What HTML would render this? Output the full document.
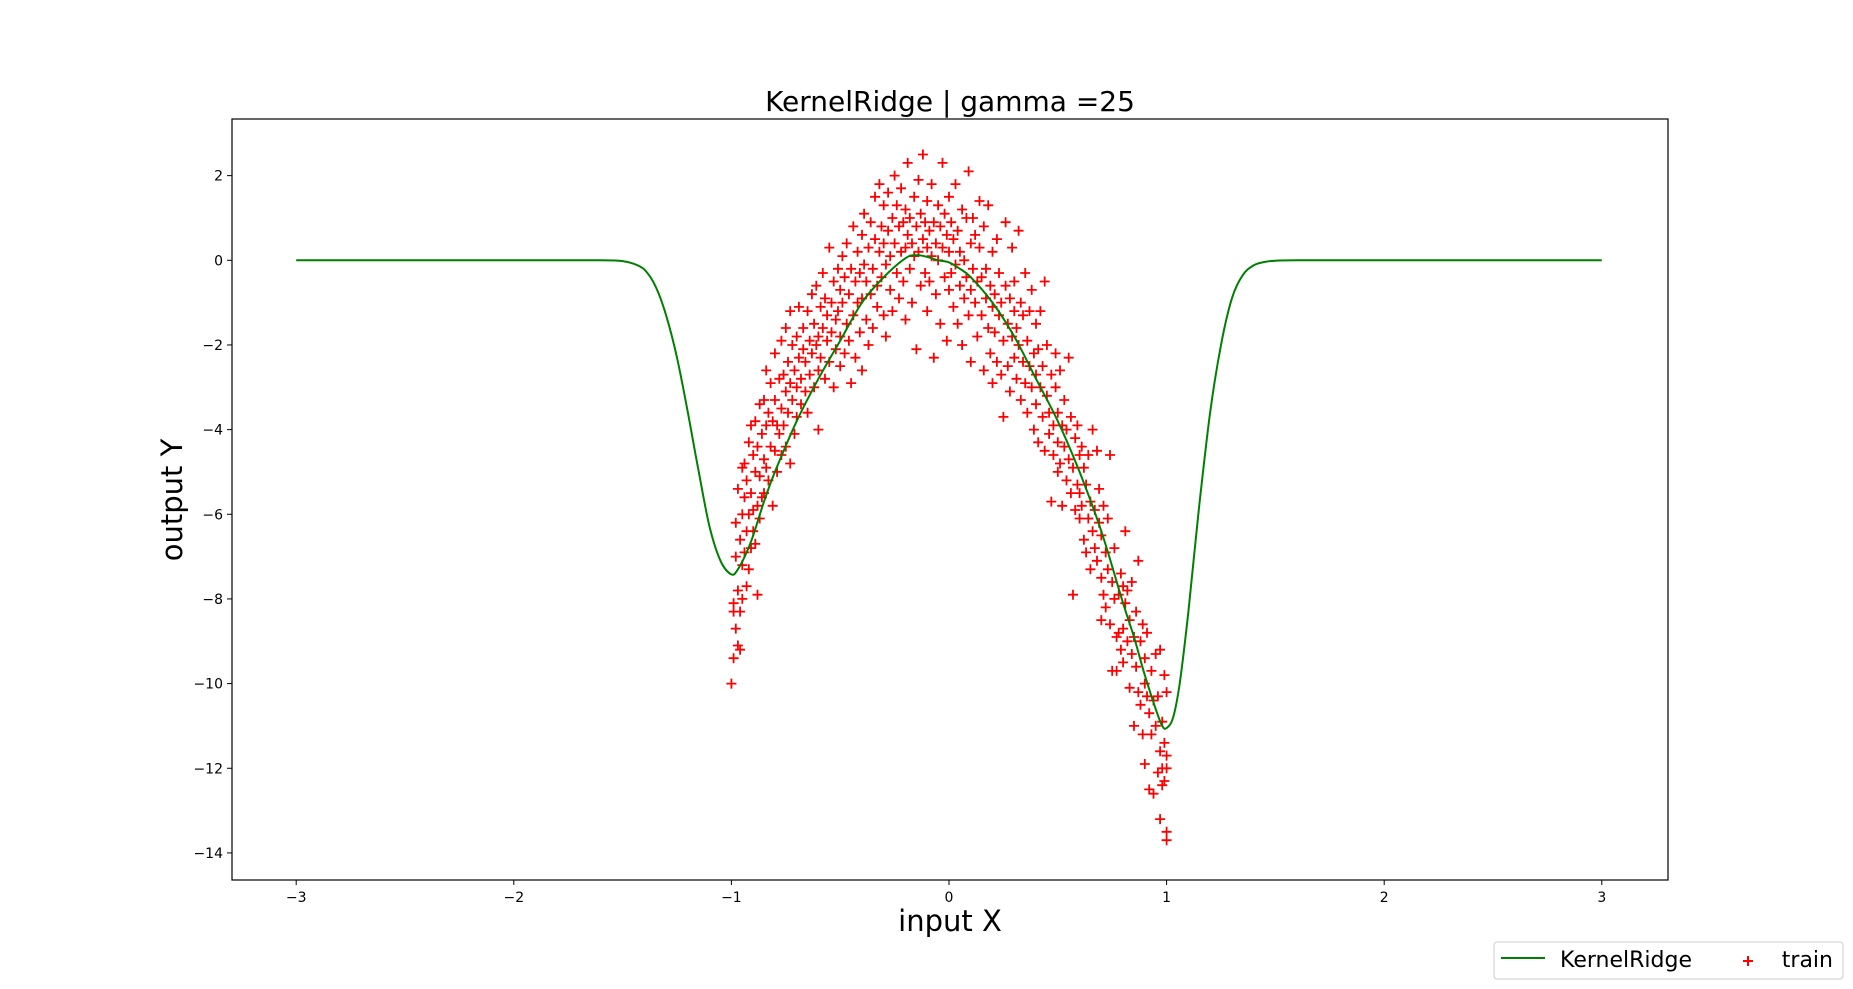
<!DOCTYPE html>
<html><head><meta charset="utf-8"><style>
html,body{margin:0;padding:0;background:#fff;}
svg{display:block;font-family:"DejaVu Sans","Liberation Sans",sans-serif;}
</style></head><body>
<svg id="chart" width="1853" height="989" viewBox="0 0 1853 989">
<rect x="0" y="0" width="1853" height="989" fill="#fff"/>
<text x="950" y="111" font-size="28" text-anchor="middle" fill="#000">KernelRidge | gamma =25</text>
<g id="plot"></g>
<rect x="232" y="119" width="1436" height="761" fill="none" stroke="#000" stroke-width="1.2"/>
<g id="xticks"></g>
<g id="yticks"></g>
<text x="950" y="931" font-size="29" text-anchor="middle">input X</text>
<text transform="translate(182,500) rotate(-90)" font-size="29" text-anchor="middle">output Y</text>
<g>
<rect x="1494" y="942" width="349" height="37" rx="3" fill="#fff" stroke="#ccc" stroke-width="1"/>
<line x1="1501" y1="958" x2="1545" y2="958" stroke="#008000" stroke-width="2"/>
<text x="1560" y="967" font-size="22">KernelRidge</text>
<path d="M1743 961h10M1748 956v10" stroke="#f00" stroke-width="2"/>
<text x="1833" y="967" font-size="22" text-anchor="end">train</text>
</g>
</svg>
<script>
const xTicks=[-3,-2,-1,0,1,2,3];
const yTicks=[2,0,-2,-4,-6,-8,-10,-12,-14];
const curveX=[-3,-2,-1.6,-1.5,-1.45,-1.4,-1.35,-1.3,-1.25,-1.2,-1.15,-1.1,-1.05,-1.0,-0.97,-0.93,-0.9,-0.85,-0.8,-0.7,-0.6,-0.5,-0.4,-0.3,-0.2,-0.15,-0.1,-0.05,0,0.05,0.1,0.2,0.3,0.4,0.5,0.6,0.7,0.8,0.85,0.9,0.95,0.98,1.0,1.03,1.06,1.1,1.15,1.2,1.25,1.3,1.35,1.4,1.45,1.5,1.6,2,3];
const curveY=[0,0,0,-0.02,-0.08,-0.22,-0.6,-1.3,-2.3,-3.6,-5.0,-6.3,-7.1,-7.42,-7.3,-6.9,-6.5,-5.7,-5.0,-3.8,-2.8,-1.9,-1.0,-0.4,0.05,0.12,0.08,0.0,-0.05,-0.2,-0.4,-1.0,-1.8,-2.8,-3.8,-5.0,-6.4,-8.1,-8.9,-9.8,-10.6,-11.0,-11.05,-10.8,-10.0,-8.3,-5.8,-3.6,-2.0,-0.9,-0.35,-0.12,-0.04,-0.01,0,0,0];
const trainPoints=[
[-1,-10.0],[-0.99,-8.1],[-0.99,-9.4],[-0.99,-8.3],[-0.98,-7.0],[-0.98,-8.7],[-0.98,-6.2],[-0.97,-9.1],[-0.97,-7.8],[-0.97,-5.4],[-0.96,-8.3],[-0.96,-6.6],[-0.96,-9.2],[-0.95,-7.2],[-0.95,-6.0],[-0.95,-8.0],[-0.95,-4.9],[-0.94,-5.6],[-0.94,-6.9],[-0.94,-4.8],[-0.93,-7.7],[-0.93,-5.2],[-0.93,-6.4],[-0.92,-4.3],[-0.92,-6.0],[-0.92,-7.3],[-0.91,-3.9],[-0.91,-5.5],[-0.91,-6.8],[-0.9,-5.9],[-0.9,-4.6],[-0.9,-6.4],[-0.89,-3.8],[-0.89,-5.0],[-0.89,-6.7],[-0.88,-4.4],[-0.88,-5.8],[-0.88,-7.9],[-0.87,-3.4],[-0.87,-5.1],[-0.87,-6.1],[-0.86,-4.1],[-0.86,-5.6],[-0.85,-4.7],[-0.85,-3.3],[-0.85,-5.5],
[-0.84,-2.6],[-0.84,-3.9],[-0.84,-4.9],[-0.83,-3.6],[-0.83,-5.2],[-0.82,-4.4],[-0.82,-2.9],[-0.81,-3.8],[-0.81,-5.8],[-0.8,-3.3],[-0.8,-4.5],[-0.8,-2.2],[-0.79,-3.9],[-0.79,-5.0],[-0.78,-2.8],[-0.78,-4.1],[-0.77,-1.9],[-0.77,-3.5],[-0.77,-4.6],[-0.76,-2.7],[-0.76,-3.9],[-0.75,-3.1],[-0.75,-1.6],[-0.75,-4.4],[-0.74,-2.4],[-0.74,-3.6],[-0.73,-1.2],[-0.73,-2.9],[-0.73,-4.8],[-0.72,-2.0],[-0.72,-3.3],[-0.71,-2.6],[-0.71,-4.1],[-0.7,-1.8],[-0.7,-3.0],[-0.7,-3.7],[-0.69,-2.3],[-0.69,-1.1],[-0.68,-2.8],[-0.68,-3.4],[-0.67,-1.6],[-0.67,-2.1],[-0.66,-3.1],[-0.66,-2.4],[-0.65,-1.2],[-0.65,-3.6],[-0.64,-1.9],[-0.64,-2.7],
[-0.63,-0.8],[-0.63,-2.2],[-0.62,-1.5],[-0.62,-3.0],[-0.61,-2.0],[-0.61,-0.6],[-0.6,-1.8],[-0.6,-2.6],[-0.6,-4.0],[-0.59,-1.1],[-0.59,-2.3],[-0.58,-0.3],[-0.58,-1.6],[-0.57,-2.8],[-0.57,-0.9],[-0.56,-1.9],[-0.56,-1.3],[-0.55,0.3],[-0.55,-2.4],[-0.54,-1.0],[-0.54,-1.7],[-0.53,-3.0],[-0.53,-0.5],[-0.52,-1.4],[-0.52,-2.1],[-0.51,-0.2],[-0.51,-1.2],[-0.5,-0.7],[-0.5,-2.5],[-0.5,-1.8],[-0.49,0.1],[-0.49,-1.0],[-0.48,-0.4],[-0.48,-2.2],[-0.47,-1.5],[-0.47,0.4],[-0.46,-0.8],[-0.46,-1.9],[-0.45,-0.2],[-0.45,-2.9],[-0.44,-1.3],[-0.44,0.8],[-0.43,-0.5],[-0.43,-2.3],[-0.42,-1.0],[-0.42,0.2],[-0.41,-1.7],[-0.41,-0.3],
[-0.4,0.6],[-0.4,-0.9],[-0.4,-2.6],[-0.39,-0.1],[-0.39,1.1],[-0.38,-1.4],[-0.38,-0.5],[-0.37,0.3],[-0.37,-2.0],[-0.36,-0.8],[-0.36,0.9],[-0.35,-0.2],[-0.35,-1.6],[-0.34,0.5],[-0.34,1.5],[-0.33,-0.6],[-0.33,-1.1],[-0.32,0.2],[-0.32,1.8],[-0.31,-0.4],[-0.31,0.8],[-0.3,-1.3],[-0.3,0.4],[-0.3,1.3],[-0.29,-0.1],[-0.29,-1.8],[-0.28,0.7],[-0.28,1.6],[-0.27,-0.7],[-0.27,0.1],[-0.26,1.0],[-0.26,-1.2],[-0.25,0.4],[-0.25,2.0],[-0.24,-0.3],[-0.24,1.3],[-0.23,0.8],[-0.23,-0.9],[-0.22,0.2],[-0.22,1.7],[-0.21,-0.5],[-0.21,0.9],[-0.2,0.3],[-0.2,-1.4],[-0.2,1.2],
[-0.19,0.6],[-0.19,2.3],[-0.18,-0.2],[-0.18,1.0],[-0.17,0.4],[-0.17,-1.0],[-0.16,1.5],[-0.16,0.1],[-0.15,0.8],[-0.15,-2.1],[-0.14,1.9],[-0.14,0.2],[-0.13,-0.6],[-0.13,1.1],[-0.12,0.5],[-0.12,2.5],[-0.11,-0.3],[-0.11,0.9],[-0.1,1.4],[-0.1,-1.2],[-0.1,0.3],[-0.09,0.7],[-0.09,-0.5],[-0.08,1.8],[-0.08,0.1],[-0.07,-2.3],[-0.07,0.9],[-0.06,0.4],[-0.06,-0.8],[-0.05,1.3],[-0.05,0.0],[-0.04,-1.5],[-0.04,0.8],[-0.03,2.3],[-0.03,0.3],[-0.02,-0.4],[-0.02,1.1],[-0.01,0.6],[-0.01,-1.9],[0,0.2],[0,1.5],[0,-0.7],
[0.01,0.9],[0.01,-0.3],[0.02,-1.1],[0.02,0.5],[0.03,1.8],[0.03,-0.1],[0.04,-1.5],[0.04,0.7],[0.05,0.2],[0.05,-0.6],[0.06,1.2],[0.06,-2.0],[0.07,0.0],[0.07,-0.9],[0.08,1.0],[0.08,-0.4],[0.09,2.1],[0.09,-1.3],[0.1,0.4],[0.1,-0.7],[0.1,-2.4],[0.11,-0.2],[0.11,1.0],[0.12,-1.0],[0.12,0.6],[0.13,-0.5],[0.13,-1.8],[0.14,0.3],[0.14,1.4],[0.15,-1.3],[0.15,-0.4],[0.16,-2.6],[0.16,0.8],[0.17,-0.9],[0.17,-0.2],[0.18,-1.6],[0.18,1.3],[0.19,-0.6],[0.19,-2.2],
[0.2,-1.1],[0.2,0.2],[0.2,-2.9],[0.21,-0.8],[0.21,-1.7],[0.22,0.5],[0.22,-2.4],[0.23,-1.3],[0.23,-0.3],[0.24,-2.7],[0.24,-1.0],[0.25,-3.7],[0.25,-1.9],[0.26,0.9],[0.26,-0.6],[0.27,-1.5],[0.27,-2.5],[0.28,-0.9],[0.28,-3.1],[0.29,-1.8],[0.29,0.3],[0.3,-1.2],[0.3,-2.3],[0.3,-0.5],[0.31,-2.8],[0.31,-1.6],[0.32,0.7],[0.32,-2.0],[0.33,-1.0],[0.33,-3.3],[0.34,-2.4],[0.34,-1.3],[0.35,-0.3],[0.35,-2.9],[0.36,-1.9],[0.36,-3.6],[0.37,-2.5],[0.37,-1.2],[0.38,-3.0],[0.38,-0.7],[0.39,-2.2],[0.39,-4.0],
[0.4,-2.7],[0.4,-1.5],[0.4,-3.4],[0.41,-4.3],[0.41,-2.1],[0.42,-3.0],[0.42,-1.2],[0.43,-3.7],[0.43,-2.5],[0.44,-4.5],[0.44,-0.5],[0.45,-3.2],[0.45,-2.0],[0.46,-4.1],[0.46,-3.6],[0.47,-2.7],[0.47,-5.7],[0.48,-3.9],[0.48,-4.6],[0.49,-3.0],[0.49,-2.2],[0.5,-4.3],[0.5,-3.6],[0.5,-5.0],[0.51,-2.6],[0.51,-4.8],[0.52,-3.9],[0.52,-5.8],[0.53,-4.4],[0.53,-3.3],[0.54,-5.2],[0.54,-4.0],[0.55,-2.3],[0.55,-4.7],[0.56,-3.7],[0.56,-5.5],[0.57,-4.9],[0.57,-7.9],[0.58,-4.2],[0.58,-5.9],[0.59,-3.9],[0.59,-5.3],
[0.6,-4.6],[0.6,-6.1],[0.6,-5.5],[0.61,-4.4],[0.61,-5.8],[0.62,-6.6],[0.62,-4.9],[0.63,-5.3],[0.63,-6.9],[0.64,-4.6],[0.64,-6.1],[0.65,-5.7],[0.65,-7.3],[0.66,-4.0],[0.66,-6.4],[0.67,-5.9],[0.67,-6.8],[0.68,-4.5],[0.68,-7.1],[0.69,-6.2],[0.69,-5.4],[0.7,-7.5],[0.7,-6.5],[0.7,-8.5],[0.71,-5.8],[0.71,-7.9],[0.72,-6.9],[0.72,-8.2],[0.73,-7.3],[0.73,-6.1],[0.74,-8.6],[0.74,-4.6],[0.75,-7.6],[0.75,-9.7],[0.76,-8.0],[0.76,-6.8],[0.77,-8.9],[0.77,-9.7],[0.78,-7.9],[0.78,-8.8],[0.79,-9.2],[0.79,-7.4],
[0.8,-8.7],[0.8,-7.7],[0.8,-9.5],[0.81,-8.1],[0.81,-6.4],[0.82,-9.0],[0.82,-7.8],[0.83,-8.5],[0.83,-10.1],[0.84,-9.3],[0.84,-7.6],[0.85,-8.9],[0.85,-11.0],[0.86,-9.6],[0.86,-8.3],[0.87,-10.2],[0.87,-7.1],[0.88,-9.0],[0.88,-10.5],[0.89,-8.6],[0.89,-11.2],[0.9,-10.0],[0.9,-9.4],[0.9,-11.9],[0.91,-10.3],[0.91,-8.8],[0.92,-10.7],[0.92,-12.5],[0.93,-9.7],[0.93,-11.2],[0.94,-10.4],[0.94,-12.6],[0.95,-11.0],[0.95,-9.3],[0.96,-10.3],[0.96,-12.1],[0.97,-11.6],[0.97,-13.2],[0.97,-9.2],[0.98,-12.4],[0.98,-10.9],[0.98,-12.0],[0.99,-11.4],[0.99,-12.3],[0.99,-9.8],[1.0,-13.5],[1.0,-13.7],[1.0,-12.0],[1.0,-10.2],[1.0,-11.7]
];
const X0=232,X1=1668,Y0=119,Y1=880;
const xS=v=>949+v*217.6;
const yS=v=>260.3-v*42.33;
const NS='http://www.w3.org/2000/svg';
const plot=document.getElementById('plot');
const xt=document.getElementById('xticks'),yt=document.getElementById('yticks');
function mk(t,a,p){const e=document.createElementNS(NS,t);for(const k in a)e.setAttribute(k,a[k]);p.appendChild(e);return e;}
xTicks.forEach(v=>{
 const l=mk('line',{x1:xS(v),x2:xS(v),y1:Y1,y2:Y1+5,stroke:'#000','stroke-width':1},xt);
 
 
 const t=mk('text',{x:xS(v),y:Y1+22,'font-size':14,'text-anchor':'middle'},xt);
 t.textContent=v<0?'\u2212'+Math.abs(v):String(v);
 
 
});
yTicks.forEach(v=>{
 const l=mk('line',{x1:X0-5,x2:X0,y1:yS(v),y2:yS(v),stroke:'#000','stroke-width':1},yt);
 
 
 const t=mk('text',{x:X0-9,y:yS(v)+5,'font-size':14,'text-anchor':'end'},yt);
 t.textContent=v<0?'\u2212'+Math.abs(v):String(v);
 
 
});
const P=curveX.map((x,i)=>[xS(x),yS(curveY[i])]);
let d='M'+P[0][0]+' '+P[0][1];
for(let i=0;i<P.length-1;i++){
 const p0=P[Math.max(0,i-1)],p1=P[i],p2=P[i+1],p3=P[Math.min(P.length-1,i+2)];
 const c1x=p1[0]+(p2[0]-p0[0])/6,c1y=p1[1]+(p2[1]-p0[1])/6;
 const c2x=p2[0]-(p3[0]-p1[0])/6,c2y=p2[1]-(p3[1]-p1[1])/6;
 d+=` C${c1x.toFixed(1)} ${c1y.toFixed(1)} ${c2x.toFixed(1)} ${c2y.toFixed(1)} ${p2[0].toFixed(1)} ${p2[1].toFixed(1)}`;
}
const pts=mk('g',{},plot);


let pd='';
trainPoints.forEach(p=>{const cx=xS(p[0]),cy=yS(p[1]);pd+=`M${(cx-5).toFixed(1)} ${cy.toFixed(1)}h10M${cx.toFixed(1)} ${(cy-5).toFixed(1)}v10`;});
const pp=mk('path',{d:pd,stroke:'#f00','stroke-width':1.8,fill:'none'},pts);


const line=mk('path',{d:d,fill:'none',stroke:'#008000','stroke-width':2},plot);


</script>
</body></html>
